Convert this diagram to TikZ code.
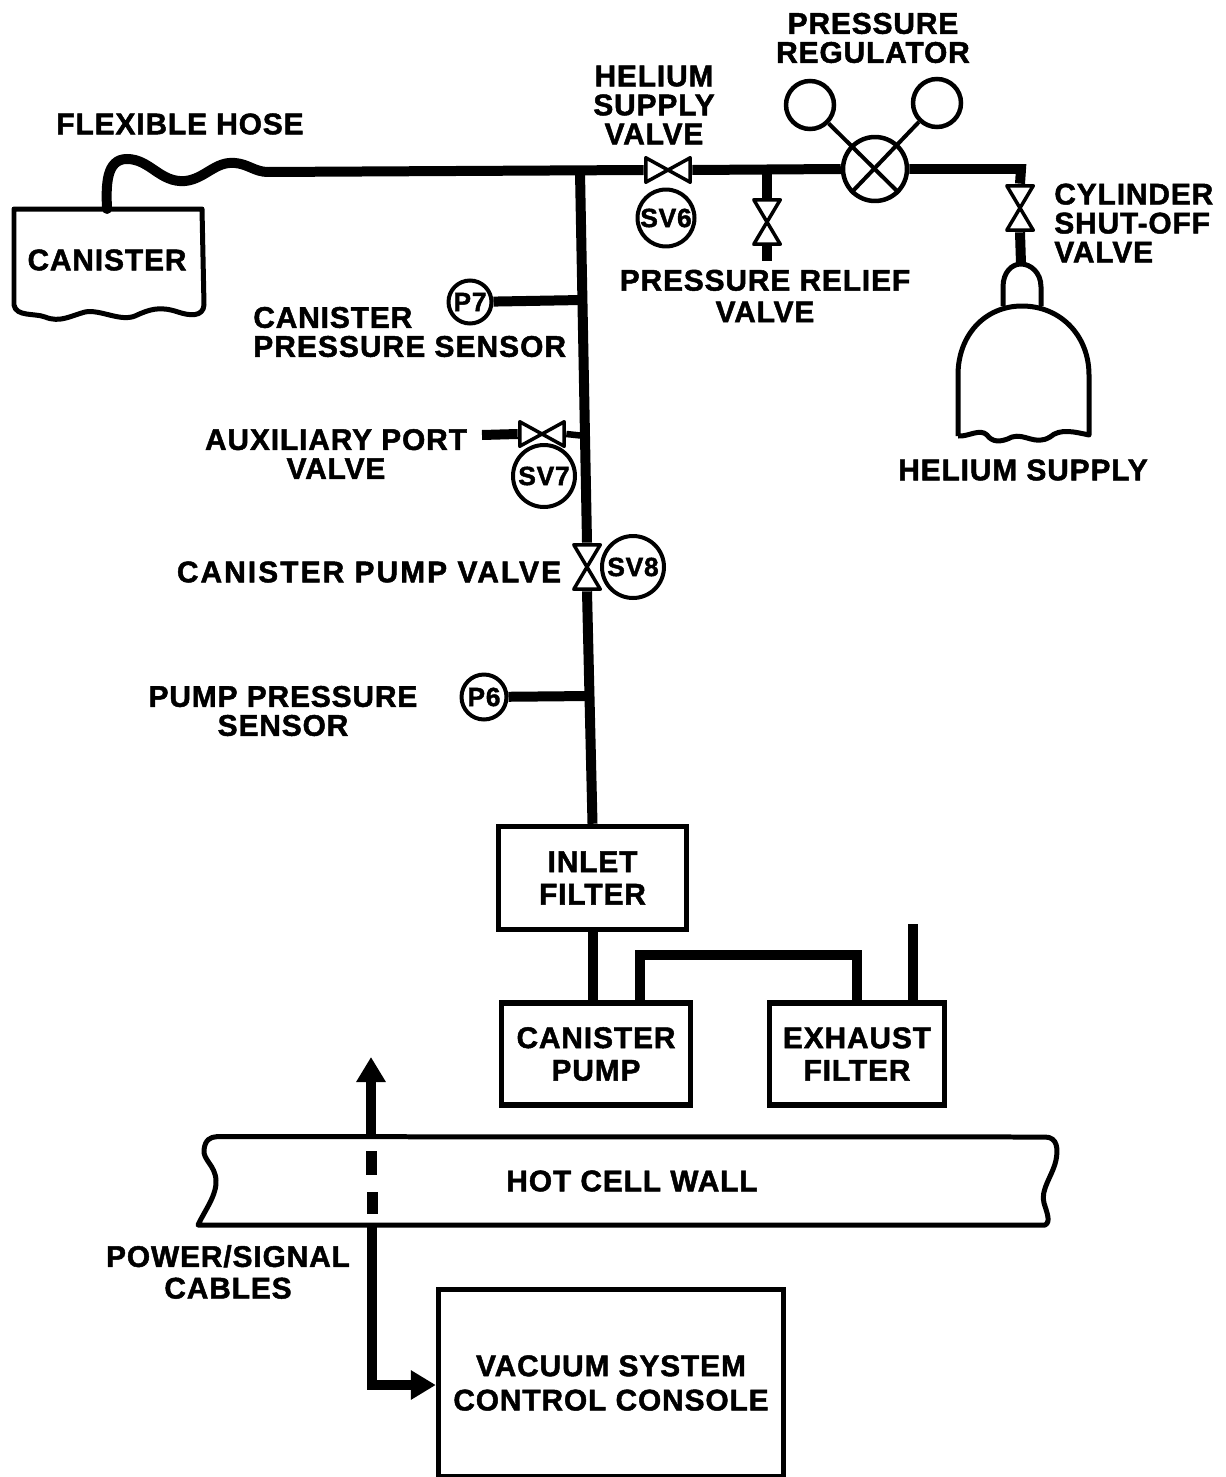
\documentclass[tikz,border=0pt]{standalone}
\usepackage{fontspec}
\setmainfont{Liberation Sans}[LetterSpace=3,BoldFeatures={FakeBold=1.6}]
\usetikzlibrary{arrows.meta, positioning, calc}

\begin{document}
\begin{tikzpicture}[x=0.02cm,y=-0.02cm,
    txt/.style={inner sep=0pt,align=center,font=\fontsize{17}{16.5}\selectfont\bfseries},
    pipe/.style={line width=0.2cm},
    thinpipe/.style={line width=0.13cm},
    outline/.style={line width=0.1cm,line join=round},
    gaugeline/.style={line width=0.08cm},
    sensor/.style={circle,draw,line width=0.08cm,inner sep=0pt,font=\fontsize{15}{15}\selectfont\bfseries},
    boxnode/.style={draw,line width=0.11cm,inner sep=0pt,align=center,font=\fontsize{17}{18.5}\selectfont\bfseries},
    valveh/.style={inner sep=0pt,minimum width=0.96cm,minimum height=0.56cm,path picture={
      \draw[line width=0.07cm,line join=round]
        ([shift={(1pt,-1pt)}]path picture bounding box.north west) --
        ([shift={(1pt,1pt)}]path picture bounding box.south west) --
        ([shift={(-1pt,-1pt)}]path picture bounding box.north east) --
        ([shift={(-1pt,1pt)}]path picture bounding box.south east) -- cycle;}},
    valvev/.style={inner sep=0pt,minimum width=0.6cm,minimum height=0.96cm,path picture={
      \draw[line width=0.07cm,line join=round]
        ([shift={(1pt,-1pt)}]path picture bounding box.north west) --
        ([shift={(-1pt,-1pt)}]path picture bounding box.north east) --
        ([shift={(1pt,1pt)}]path picture bounding box.south west) --
        ([shift={(-1pt,1pt)}]path picture bounding box.south east) -- cycle;}},
    bigtip/.style={-{Triangle[length=0.5cm,width=0.56cm]}}
  ]
  \useasboundingbox (0,0) rectangle (1226,1477);

  \node[valveh] (sv6valve) at (668,170) {};
  \node[valvev] (reliefvalve) at (767,222) {};
  \node[valvev] (cylvalve) at (1020,208) {};
  \node[valveh] (sv7valve) at (542,434) {};
  \node[valvev] (sv8valve) at (587,567) {};

  \node[sensor,minimum size=1.14cm] (sv6) at (666,218) {SV6};
  \node[sensor,minimum size=0.86cm] (p7) at (470,302) {P7};
  \node[sensor,minimum size=1.24cm] (sv7) at (544,476) {SV7};
  \node[sensor,minimum size=1.24cm] (sv8) at (633,567) {SV8};
  \node[sensor,minimum size=0.9cm] (p6) at (484,697) {P6};

  \node[circle,draw,line width=0.09cm,minimum size=1.28cm,inner sep=0pt] (regulator) at (875,169) {};
  \node[circle,draw,line width=0.09cm,minimum size=0.96cm,inner sep=0pt] (gaugeleft) at (810,105) {};
  \node[circle,draw,line width=0.09cm,minimum size=0.96cm,inner sep=0pt] (gaugeright) at (937,103) {};
  \draw[gaugeline] (gaugeleft) -- (regulator.south east);
  \draw[gaugeline] (gaugeright) -- (regulator.south west);

  \node[boxnode,minimum width=3.76cm,minimum height=2.06cm] (inlet) at (592.5,878) {INLET\\FILTER};
  \node[boxnode,minimum width=3.78cm,minimum height=2.04cm] (pump) at (596,1054) {CANISTER\\PUMP};
  \node[boxnode,minimum width=3.5cm,minimum height=2.04cm] (exhaust) at (857,1054) {EXHAUST\\FILTER};
  \node[boxnode,minimum width=6.9cm,minimum height=3.74cm] (console) at (611,1383) {VACUUM SYSTEM\\[1pt]CONTROL CONSOLE};

  \coordinate (hosestart) at (107,209);
  \coordinate (hoseend) at (268,172);
  \coordinate (pipetop) at (580,172);
  \coordinate (reliefj) at (767,170);
  \coordinate (reliefend) at (767,261);
  \coordinate (cylcorner) at (1021,169);
  \coordinate (cylneck) at (1021,264);
  \coordinate (p7j) at (582,300);
  \coordinate (sv7j) at (585,436);
  \coordinate (auxend) at (482,435);
  \coordinate (p6j) at (590,696);
  \coordinate (ventend) at (913,924);

  \draw[pipe] (hoseend) -- (sv6valve.west);
  \draw[pipe] (sv6valve.east) -- (regulator.west);
  \draw[pipe,line join=miter] (regulator.east) -- (cylcorner) -- (cylvalve.north);
  \draw[pipe] (cylvalve.south) -- (cylneck);
  \draw[pipe] (reliefj) -- (reliefvalve.north);
  \draw[pipe] (reliefvalve.south) -- (reliefend);
  \draw[pipe] (pipetop) -- (sv8valve.north);
  \draw[pipe] (sv8valve.south) -- (inlet.north);
  \draw[pipe] (p7) -- (p7j);
  \draw[pipe] (auxend) -- (sv7valve.west);
  \draw[thinpipe] (sv7valve.east) -- (sv7j);
  \draw[pipe] (p6) -- (p6j);
  \draw[pipe] (inlet.south) -- (pump.north -| inlet.south);
  \draw[pipe] (640,1003) |- (857,955) -- (exhaust.north);
  \draw[pipe] (exhaust.north -| ventend) -- (ventend);
  \draw[pipe,line cap=round] (hosestart) .. controls (106,185) and (106,159) .. (127,159)
    .. controls (150,159) and (160,183) .. (185,181)
    .. controls (205,179) and (215,161) .. (235,163)
    .. controls (248,164) and (255,172) .. (hoseend);

  \draw[outline] (14,209) -- (202,209) -- (204,305) .. controls (203,317) and (190,316) .. (178,312)
    .. controls (160,306) and (150,309) .. (135,316)
    .. controls (120,322) and (100,309) .. (85,312)
    .. controls (70,316) and (60,323) .. (45,317)
    .. controls (35,313) and (16,317) .. (14,305) -- cycle;
  \node[txt] (canister) at (107,260) {CANISTER};

  \draw[outline] (1003,306) -- (1003,287) .. controls (1003,272) and (1012,264) .. (1021,264)
    .. controls (1030,264) and (1041,272) .. (1041,287) -- (1041,306);
  \draw[outline] (958,436) -- (958,375) .. controls (958,335) and (985,306) .. (1022,306)
    .. controls (1060,306) and (1089,335) .. (1089,375) -- (1089,435)
    .. controls (1075,432) and (1060,428) .. (1050,437)
    .. controls (1035,446) and (1025,433) .. (1012,437)
    .. controls (1000,443) and (992,442) .. (987,435)
    .. controls (980,428) and (968,437) .. (958,436);

  \node[minimum width=16.6cm,minimum height=1.76cm,inner sep=0pt,txt] (wall) at (632,1181) {HOT CELL WALL};
  \draw[outline] (wall.north west) -- (1045,1137)
    .. controls (1058,1137) and (1058,1150) .. (1056,1160)
    .. controls (1053,1175) and (1040,1190) .. (1044,1203)
    .. controls (1047,1213) and (1051,1222) .. (1045,1225) -- (198,1225)
    .. controls (205,1210) and (217,1195) .. (216,1180)
    .. controls (215,1165) and (203,1160) .. (204,1150)
    .. controls (205,1140) and (210,1137) .. (wall.north west);

  \coordinate (cablewall) at (372,1225);
  \coordinate (cablecorner) at (372,1385);
  \coordinate (cableout) at (371,1137);
  \coordinate (cabletip) at (371,1057);
  \draw[pipe,bigtip] (cableout) -- (cabletip);
  \draw[pipe,line width=0.22cm] (371,1151) -- (371,1175);
  \draw[pipe,line width=0.22cm] (372,1192) -- (372,1214);
  \draw[pipe,line join=miter,bigtip] (cablewall) -- (cablecorner) -- (console.west |- cablecorner);

  \node[txt] (hoselabel) at (180,124) {FLEXIBLE HOSE};
  \node[txt] (sv6label) at (654,105) {HELIUM\\SUPPLY\\VALVE};
  \node[txt] (reglabel) at (873,38) {PRESSURE\\REGULATOR};
  \node[txt,align=left,anchor=west] (cyllabel) at (1054,223) {CYLINDER\\SHUT-OFF\\VALVE};
  \node[txt] (relieflabel) at (765,296) {PRESSURE RELIEF\\[1.5pt]VALVE};
  \node[txt] (supplylabel) at (1023,470) {HELIUM SUPPLY};
  \node[txt,align=left,anchor=west] (p7label) at (253,332) {CANISTER\\\addfontfeature{LetterSpace=3.6}PRESSURE SENSOR};
  \node[txt] (auxlabel) at (336,454) {AUXILIARY PORT\\VALVE};
  \node[txt] (sv8label) at (369,572) {\addfontfeature{LetterSpace=7}CANISTER PUMP VALVE};
  \node[txt] (p6label) at (283,711) {PUMP PRESSURE\\SENSOR};
  \node[txt] (cablelabel) at (228,1272) {POWER/SIGNAL\\[1.5pt]CABLES};
\end{tikzpicture}
\end{document}
